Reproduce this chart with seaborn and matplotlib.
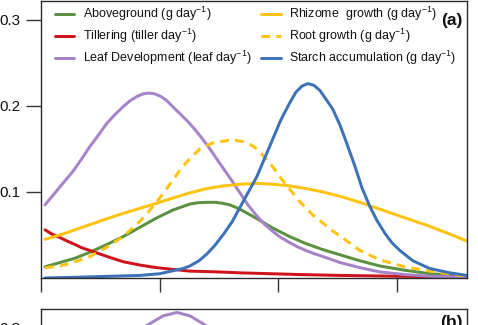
import matplotlib
matplotlib.use("Agg")
import matplotlib.pyplot as plt
import numpy as np
import pandas as pd
import seaborn as sns

# ---------------- data (pixel columns -> x units) ----------------
def px(v):
    return [(p - 41) / 1.187 for p in v]

green_px = [45, 60, 75, 90, 107, 123, 140, 157, 173, 190, 198, 207, 215, 222, 230, 240, 257,
            273, 290, 306, 323, 340, 360, 380, 405, 430, 467]
green_y = [0.013, 0.018, 0.023, 0.030, 0.039, 0.048, 0.059, 0.070, 0.079, 0.086, 0.0875, 0.088,
           0.088, 0.087, 0.085, 0.080, 0.069, 0.058, 0.048, 0.040, 0.033, 0.027, 0.020, 0.014,
           0.009, 0.005, 0.002]

red_px = [45, 52, 60, 67, 75, 82, 90, 107, 123, 140, 157, 173, 190, 220, 240, 270, 300, 340,
          400, 467]
red_y = [0.056, 0.051, 0.047, 0.043, 0.039, 0.035, 0.032, 0.025, 0.019, 0.015, 0.012, 0.010,
         0.008, 0.007, 0.006, 0.005, 0.004, 0.003, 0.002, 0.001]

purple_px = [45, 55, 65, 73, 82, 90, 99, 107, 115, 123, 130, 137, 143, 149, 155, 161, 167, 173,
             180, 187, 194, 201, 210, 217, 223, 232, 240, 248, 257, 265, 273, 281, 290, 298,
             306, 315, 323, 340, 360, 380, 405, 430, 467]
purple_y = [0.085, 0.099, 0.113, 0.124, 0.139, 0.153, 0.167, 0.180, 0.190, 0.199, 0.206, 0.211,
            0.214, 0.215, 0.214, 0.211, 0.206, 0.199, 0.191, 0.183, 0.174, 0.164, 0.150, 0.138,
            0.128, 0.113, 0.099, 0.085, 0.072, 0.062, 0.054, 0.047, 0.041, 0.036, 0.032, 0.028,
            0.025, 0.018, 0.012, 0.007, 0.004, 0.002, 0.001]

rhizome_px = [45, 60, 75, 90, 107, 123, 140, 157, 173, 190, 207, 223, 240, 257, 273, 290, 306,
              323, 340, 360, 380, 405, 430, 450, 467]
rhizome_y = [0.045, 0.050, 0.056, 0.062, 0.069, 0.075, 0.081, 0.087, 0.093, 0.099, 0.104,
             0.107, 0.109, 0.110, 0.109, 0.107, 0.104, 0.100, 0.095, 0.088, 0.080, 0.070,
             0.060, 0.051, 0.043]

root_px = [45, 60, 73, 90, 107, 123, 140, 148, 157, 165, 173, 181, 190, 200, 207, 213, 218, 223,
           229, 235, 241, 247, 252, 257, 265, 273, 281, 290, 298, 307, 315, 323, 331, 340, 360,
           380, 405, 430, 467]
root_y = [0.012, 0.014, 0.018, 0.025, 0.036, 0.048, 0.066, 0.076, 0.089, 0.101, 0.114, 0.127,
          0.139, 0.150, 0.154, 0.157, 0.158, 0.159, 0.160, 0.160, 0.159, 0.157, 0.154, 0.150,
          0.140, 0.129, 0.116, 0.103, 0.091, 0.080, 0.071, 0.064, 0.056, 0.049, 0.032, 0.021,
          0.013, 0.008, 0.002]

starch_px = [45, 80, 110, 140, 160, 175, 183, 190, 199, 207, 215, 223, 232, 240, 248, 257, 265,
             273, 281, 290, 296, 302, 308, 314, 320, 326, 333, 340, 347, 355, 362, 370, 377,
             385, 392, 400, 413, 430, 450, 467]
starch_y = [0.000, 0.001, 0.002, 0.003, 0.005, 0.009, 0.011, 0.014, 0.020, 0.028, 0.038, 0.050,
            0.065, 0.082, 0.099, 0.118, 0.140, 0.162, 0.184, 0.204, 0.216, 0.223, 0.226, 0.224,
            0.218, 0.208, 0.196, 0.178, 0.156, 0.130, 0.105, 0.083, 0.067, 0.052, 0.041, 0.032,
            0.020, 0.011, 0.006, 0.003]

# panel (b): only the top of its leaf-development curve is visible
leafb_px = [120, 135, 150, 163, 177, 190, 203, 218, 233]
leafb_y = [0.280, 0.295, 0.305, 0.314, 0.318, 0.314, 0.305, 0.293, 0.280]

labels = ["Aboveground (g day$^{-1}$)", "Tillering (tiller day$^{-1}$)",
          "Leaf Development (leaf day$^{-1}$)", "Rhizome  growth (g day$^{-1}$)",
          "Root growth (g day$^{-1}$)", "Starch accumulation (g day$^{-1}$)"]
colors = ["#5a9140", "#d0121b", "#a683c8", "#ffc20e", "#ffc20e", "#3d72b8"]
x_ticks = [0, 100, 200, 300]
y_ticks = [0.1, 0.2, 0.3]

# ---------------- style ----------------
sns.set_theme(style="white")
plt.rcParams["font.family"] = ["Liberation Sans", "DejaVu Sans"]
plt.rcParams["mathtext.fontset"] = "custom"
plt.rcParams["mathtext.rm"] = "Liberation Sans"
plt.rcParams["mathtext.it"] = "Liberation Sans:italic"
plt.rcParams["mathtext.bf"] = "Liberation Sans:bold"
plt.rcParams["mathtext.default"] = "regular"

W, H = 478, 325
fig = plt.figure(figsize=(W / 100, H / 100), dpi=100)
ax = fig.add_axes([41 / W, (H - 278) / H, 426 / W, 277 / H])
ax2 = fig.add_axes([41 / W, (H - 309 - 277) / H, 426 / W, 277 / H])

series = [(green_px, green_y), (red_px, red_y), (purple_px, purple_y),
          (rhizome_px, rhizome_y), (root_px, root_y), (starch_px, starch_y)]
lw = 2.15
for i, ((xs, ys), lab, col) in enumerate(zip(series, labels, colors)):
    sns.lineplot(x=px(xs), y=ys, ax=ax, color=col, lw=lw, label=lab, sort=True)
    ax.lines[-1].set_solid_joinstyle("round")
    if i == 4:
        ax.lines[-1].set_dashes((2.9, 2.1))

sns.lineplot(x=px(leafb_px), y=leafb_y, ax=ax2, color=colors[2], lw=lw, legend=False)

for a in (ax, ax2):
    a.set_xlim(0, 359)
    a.set_ylim(0, 0.322)
    a.set_xticks(x_ticks)
    a.set_yticks(y_ticks)
    a.set_yticklabels([f"{v:.1f}" for v in y_ticks])
    a.tick_params(axis="y", left=True, length=11, width=1.0, direction="out",
                  labelsize=11, pad=3.5, color="#333333", labelcolor="#111111")
    a.tick_params(axis="x", bottom=True, length=10, width=1.0, direction="out",
                  labelbottom=False, color="#333333")
    for s in a.spines.values():
        s.set_visible(True)
        s.set_color("#2b2b2b")
        s.set_linewidth(1.0)
    a.set_xlabel("")
    a.set_ylabel("")

leg = ax.legend(loc="upper left", bbox_to_anchor=(0.033, 0.985), ncol=2, frameon=False,
                fontsize=9, handlelength=1.55, handletextpad=0.65, columnspacing=0.8,
                labelspacing=0.3, borderpad=0, borderaxespad=0)
for t in leg.get_texts():
    t.set_color("#111111")

ax.text(0.99, 0.93, "(a)", transform=ax.transAxes, ha="right", va="center",
        fontsize=12.5, fontweight="bold", color="#111111")
ax2.text(0.99, 0.95, "(b)", transform=ax2.transAxes, ha="right", va="center",
         fontsize=12.5, fontweight="bold", color="#111111")

fig.savefig("out.png", dpi=100)
